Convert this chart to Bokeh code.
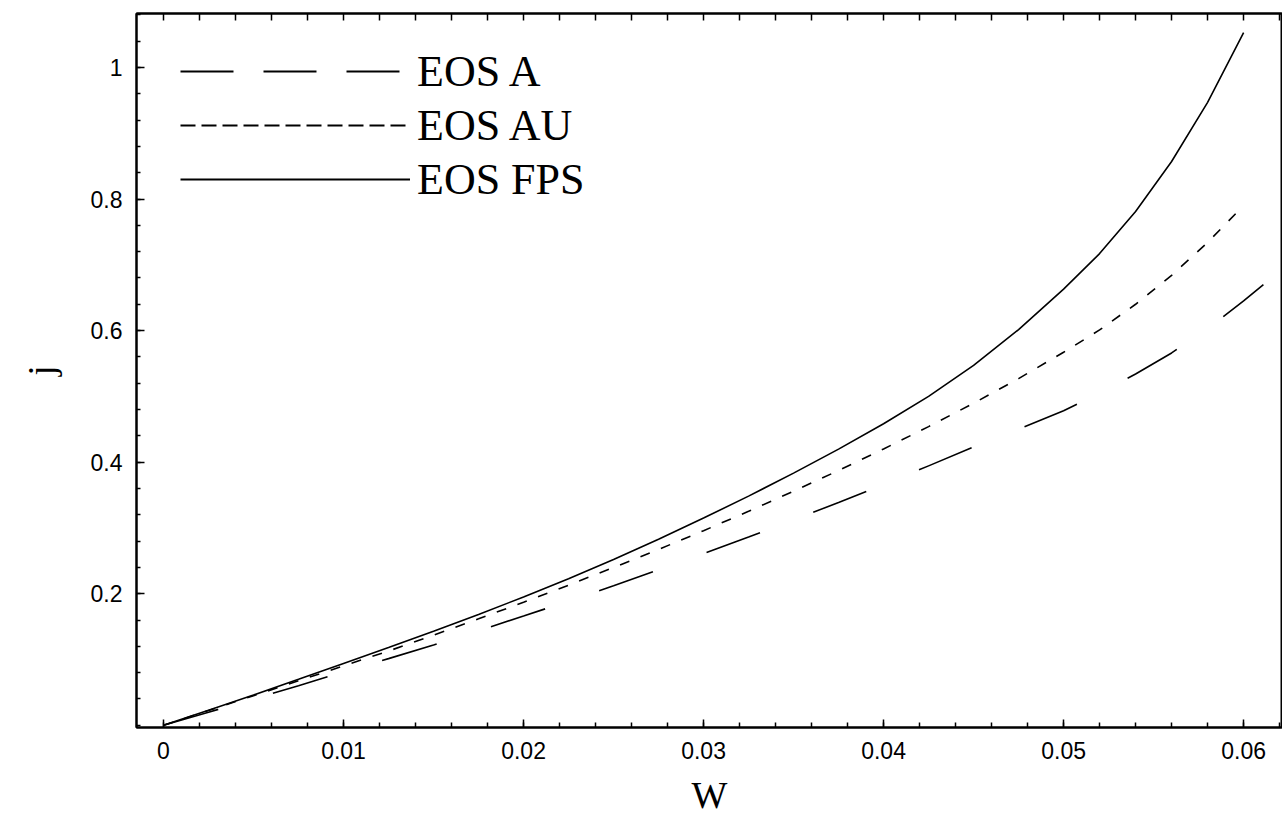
from bokeh.plotting import figure
from bokeh.models import (Range1d, FixedTicker, LinearAxis, Legend, LegendItem)
from bokeh.embed import file_html
from bokeh.resources import INLINE
import numpy as np

# ---- data ----
w_fps = [0, 0.0025, 0.005, 0.0075, 0.01, 0.0125, 0.015, 0.0175, 0.02, 0.0225, 0.025, 0.0275,
         0.03, 0.0325, 0.035, 0.0375, 0.04, 0.0425, 0.045, 0.0475, 0.05, 0.052, 0.054, 0.056, 0.058, 0.06]
j_fps = [0, 0.0228, 0.046, 0.0698, 0.094, 0.1183, 0.143, 0.1685, 0.195, 0.2228, 0.252, 0.2828,
         0.315, 0.3483, 0.3833, 0.4198, 0.4583, 0.500, 0.547, 0.6015, 0.663, 0.717, 0.781, 0.857, 0.947, 1.053]

w_au = [0, 0.0025, 0.005, 0.0075, 0.01, 0.0125, 0.015, 0.0175, 0.02, 0.0225, 0.025, 0.0275,
        0.03, 0.0325, 0.035, 0.0375, 0.04, 0.0425, 0.045, 0.0475, 0.05, 0.052, 0.054, 0.056, 0.058, 0.06]
j_au = [0, 0.0225, 0.045, 0.0676, 0.0903, 0.1128, 0.137, 0.1618, 0.187, 0.213, 0.2398, 0.2673,
        0.2958, 0.3253, 0.3558, 0.3873, 0.420, 0.454, 0.4895, 0.527, 0.567, 0.601, 0.640, 0.684, 0.734, 0.790]

w_a = [0, 0.0025, 0.005, 0.0075, 0.01, 0.0125, 0.015, 0.0175, 0.02, 0.0225, 0.025, 0.0275,
       0.03, 0.0325, 0.035, 0.0375, 0.04, 0.0425, 0.045, 0.0475, 0.05, 0.052, 0.054, 0.056, 0.058, 0.06, 0.0611]
j_a = [0, 0.0198, 0.040, 0.0602, 0.081, 0.1013, 0.122, 0.1438, 0.166, 0.1888, 0.212, 0.2363,
       0.261, 0.2863, 0.312, 0.3388, 0.366, 0.3943, 0.423, 0.4503, 0.478, 0.505, 0.534, 0.566, 0.603, 0.645, 0.670]

x_ticks = [0, 0.01, 0.02, 0.03, 0.04, 0.05, 0.06]
x_tick_labels = ["0", "0.01", "0.02", "0.03", "0.04", "0.05", "0.06"]
y_ticks = [0.2, 0.4, 0.6, 0.8, 1.0]
y_tick_labels = ["0.2", "0.4", "0.6", "0.8", "1"]
legend_labels = ["EOS A", "EOS AU", "EOS FPS"]

# ---- figure ----
p = figure(width=1282, height=818, output_backend="svg", toolbar_location=None,
           x_range=Range1d(-0.0015, 0.06216), y_range=Range1d(-0.0034, 1.082),
           min_border_left=136, min_border_right=0, min_border_top=13, min_border_bottom=90)
p.background_fill_color = "white"
p.border_fill_color = "white"
p.grid.visible = False
p.outline_line_color = "black"
p.outline_line_width = 2

x_minor = [round(v, 4) for v in np.arange(-0.002, 0.064, 0.002)]
y_minor = [round(v, 3) for v in np.arange(0.0, 1.09, 0.04)]

xa = p.xaxis[0]
xa.ticker = FixedTicker(ticks=x_ticks, minor_ticks=x_minor)
xa.major_label_overrides = {t: l for t, l in zip(x_ticks, x_tick_labels)}
ya = p.yaxis[0]
ya.ticker = FixedTicker(ticks=y_ticks, minor_ticks=y_minor)
ya.major_label_overrides = {t: l for t, l in zip(y_ticks, y_tick_labels)}

for ax in (xa, ya):
    ax.axis_line_color = "black"
    ax.axis_line_width = 2
    ax.major_tick_line_color = "black"
    ax.minor_tick_line_color = "black"
    ax.major_tick_line_width = 1.5
    ax.minor_tick_line_width = 1.5
    ax.major_tick_out = 0
    ax.minor_tick_out = 0
    ax.major_label_text_font = "Liberation Sans"
    ax.major_label_text_font_size = "23px"
    ax.major_label_text_color = "black"
    ax.axis_label_text_font = "Liberation Serif"
    ax.axis_label_text_font_style = "normal"
    ax.axis_label_text_font_size = "38px"
    ax.axis_label_text_color = "black"

xa.major_tick_in = 8
xa.minor_tick_in = 5
xa.major_label_standoff = 14
xa.axis_label = "W"
xa.axis_label_standoff = 12
ya.major_tick_in = 8
ya.minor_tick_in = 4
ya.major_label_standoff = 14
ya.axis_label = "j"
ya.axis_label_standoff = 26

top = LinearAxis(ticker=FixedTicker(ticks=[], minor_ticks=x_minor))
top.major_label_standoff = 0
top.major_tick_out = 0
top.minor_tick_out = 0
top.major_tick_in = 7
top.minor_tick_in = 7
top.major_tick_line_width = 1.5
top.minor_tick_line_width = 1.5
top.axis_line_width = 2
p.add_layout(top, "above")

# ---- curves ----
lw = 1.6
ra = p.line(w_a, j_a, line_color="black", line_width=lw, line_dash="57 57")
rau = p.line(w_au, j_au, line_color="black", line_width=lw, line_dash="10 12")
rfps = p.line(w_fps, j_fps, line_color="black", line_width=lw)

# legend-only renderers (legend dashing differs from the curves); one point -> nothing drawn
la = p.line(w_a[:1], j_a[:1], line_color="black", line_width=1.8, line_dash="53 30")
lau = p.line(w_au[:1], j_au[:1], line_color="black", line_width=1.8, line_dash="15 6")
lfps = p.line(w_fps[:1], j_fps[:1], line_color="black", line_width=1.8)

legend = Legend(items=[LegendItem(label=legend_labels[0], renderers=[la]),
                       LegendItem(label=legend_labels[1], renderers=[lau]),
                       LegendItem(label=legend_labels[2], renderers=[lfps])],
                location=(44, 521), orientation="vertical")
legend.glyph_width = 230
legend.glyph_height = 54
legend.label_height = 54
legend.spacing = 0
legend.padding = 0
legend.margin = 0
legend.label_standoff = 7
legend.border_line_color = None
legend.background_fill_alpha = 0
legend.label_text_font = "Liberation Serif"
legend.label_text_font_size = "44px"
legend.label_text_color = "black"
p.add_layout(legend)

open("out.html", "w").write(file_html(p, INLINE))
